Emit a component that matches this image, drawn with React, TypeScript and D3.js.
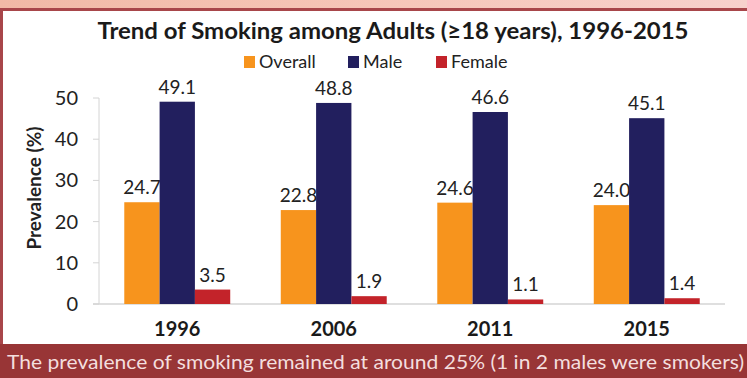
import React from "react";
import * as d3 from "d3";

const years = ["1996", "2006", "2011", "2015"];
const seriesNames = ["Overall", "Male", "Female"];
const overall = [24.7, 22.8, 24.6, 24.0];
const male = [49.1, 48.8, 46.6, 45.1];
const female = [3.5, 1.9, 1.1, 1.4];
const yTicks = [0, 10, 20, 30, 40, 50];
const colors = ["#f7941d", "#221f5e", "#c3232a"];
const title = "Trend of Smoking among Adults (\u226518 years), 1996-2015";
const footer = "The prevalence of smoking remained at around 25% (1 in 2 males were smokers)";
const yLabel = "Prevalence (%)";

const W = 747;
const H = 378;
const FONT = "Lato, 'Open Sans', sans-serif";

export default function App() {
  const series = [overall, male, female];
  const x = d3.scaleBand<string>().domain(years).range([99, 725]).paddingInner(0.323).paddingOuter(0.1615);
  const xs = d3.scaleBand<string>().domain(seriesNames).range([0, x.bandwidth()]);
  const y = d3.scaleLinear().domain([0, 50]).range([304, 98]);
  const legendX = [244, 348, 436];

  return (
    <svg width={W} height={H} style={{ position: "absolute", left: 0, top: 0, display: "block" }}>
      <defs>
        <linearGradient id="topg" x1="0" x2="1" y1="0" y2="0">
          <stop offset="0" stopColor="#f1b9a6" />
          <stop offset="0.5" stopColor="#f6c6b8" />
          <stop offset="1" stopColor="#f7d1cc" />
        </linearGradient>
      </defs>
      <rect x={0} y={0} width={W} height={H} fill="#ffffff" />
      <rect x={0} y={0} width={W} height={9} fill="url(#topg)" />
      <rect x={0} y={8} width={W} height={3} fill="#a8464a" />
      <rect x={0} y={8} width={3} height={337} fill="#a8464a" />
      <rect x={0} y={344} width={W} height={34} fill="#983536" />
      <text x={7} y={369} fontFamily={FONT} fontSize={20} fill="#f3dede" textLength={737} lengthAdjust="spacingAndGlyphs">{footer}</text>

      <text x={393} y={39} textAnchor="middle" fontFamily={FONT} fontSize={23} fontWeight="bold" fill="#1a1a1a" textLength={591} lengthAdjust="spacingAndGlyphs">{title}</text>

      {seriesNames.map((s, i) => {
        const lx = legendX[i];
        return (
          <g key={s}>
            <rect x={lx} y={56} width={11} height={12} fill={colors[i]} />
            <text x={lx + 15} y={68} fontFamily={FONT} fontSize={18} fill="#222">{s}</text>
          </g>
        );
      })}

      <line x1={99} x2={99} y1={y(50)} y2={y(0)} stroke="#d4d4d4" strokeWidth={1} />
      <line x1={93} x2={725} y1={y(0)} y2={y(0)} stroke="#d4d4d4" strokeWidth={1.5} />
      {yTicks.map((t) => (
        <g key={t}>
          <line x1={93} x2={99} y1={y(t)} y2={y(t)} stroke="#d4d4d4" />
          <text x={78} y={y(t)} dy="0.35em" textAnchor="end" fontFamily={FONT} fontSize={20} fill="#222">{t}</text>
        </g>
      ))}
      <text transform={`translate(41,188) rotate(-90)`} textAnchor="middle" fontFamily={FONT} fontSize={19} fontWeight="bold" fill="#222">{yLabel}</text>

      {years.map((yr, i) => (
        <g key={yr} transform={`translate(${x(yr)},0)`}>
          {series.map((vals, j) => {
            const bx = xs(seriesNames[j])!;
            return (
              <g key={j}>
                <rect x={bx} y={y(vals[i])} width={xs.bandwidth()} height={y(0) - y(vals[i])} fill={colors[j]} />
                <text x={bx + xs.bandwidth() / 2} y={y(vals[i]) - 8} textAnchor="middle" fontFamily={FONT} fontSize={19} fill="#222">{vals[i].toFixed(1)}</text>
              </g>
            );
          })}
          <text x={x.bandwidth() / 2} y={336} textAnchor="middle" fontFamily={FONT} fontSize={20} fontWeight="bold" fill="#1a1a1a">{yr}</text>
        </g>
      ))}
    </svg>
  );
}
